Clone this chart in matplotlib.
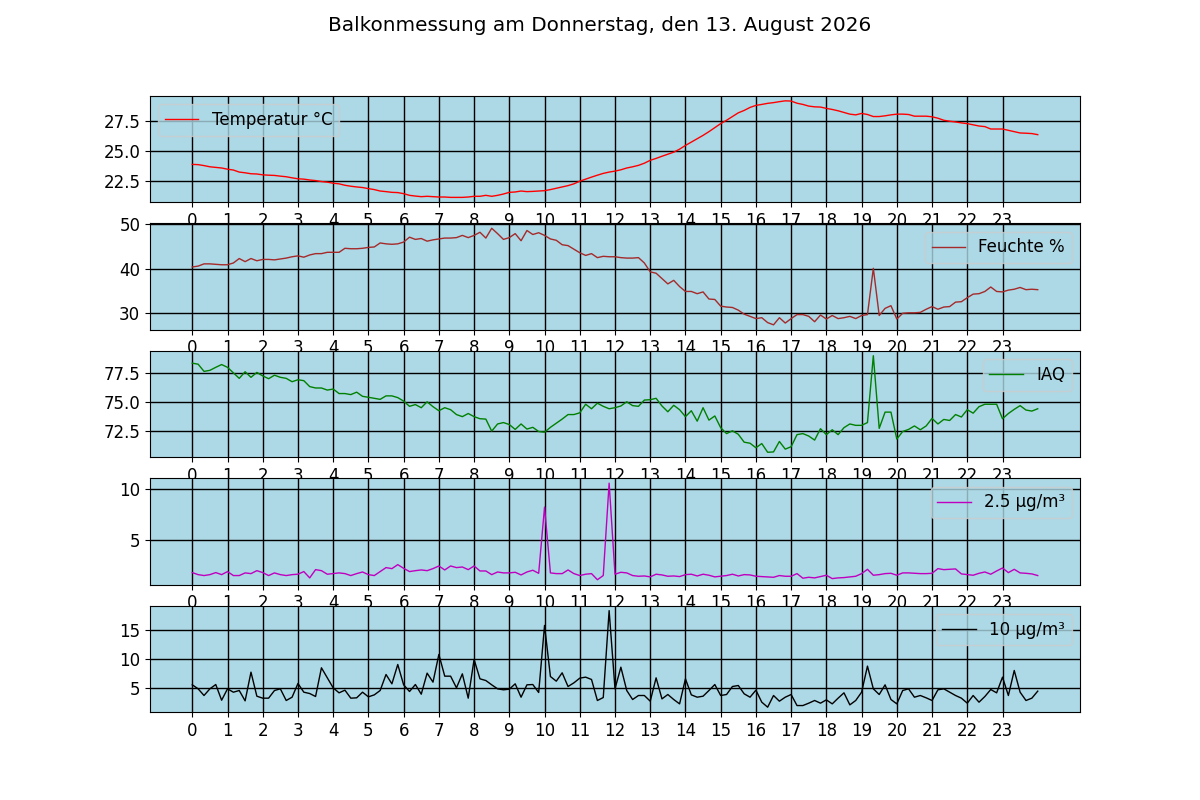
import numpy as np
import matplotlib.pyplot as plt

plt.rcParams['font.size'] = 12
plt.rcParams['axes.facecolor'] = 'lightblue'  # Legende übernimmt die Farbe

# Messwerte alle 10 Minuten (Index), Stunden-Ticks alle 6 Werte
temperatur = [23.90, 23.88, 23.80, 23.70, 23.65, 23.60, 23.50, 23.43, 23.26, 23.20,
              23.12, 23.10, 23.03, 23.00, 22.98, 22.92, 22.87, 22.78, 22.70, 22.67,
              22.60, 22.55, 22.47, 22.42, 22.33, 22.28, 22.16, 22.08, 22.02, 21.97,
              21.88, 21.80, 21.68, 21.63, 21.57, 21.55, 21.46, 21.32, 21.26, 21.21,
              21.24, 21.21, 21.18, 21.18, 21.15, 21.15, 21.15, 21.18, 21.24, 21.24,
              21.32, 21.24, 21.32, 21.43, 21.57, 21.60, 21.68, 21.63, 21.65, 21.68,
              21.71, 21.80, 21.91, 22.02, 22.13, 22.28, 22.50, 22.67, 22.84, 23.00,
              23.15, 23.26, 23.34, 23.45, 23.60, 23.70, 23.82, 24.00, 24.24, 24.40,
              24.58, 24.75, 24.92, 25.17, 25.48, 25.76, 26.04, 26.32, 26.63, 26.97,
              27.30, 27.58, 27.89, 28.20, 28.40, 28.65, 28.82, 28.90, 28.99, 29.05,
              29.13, 29.20, 29.18, 29.00, 28.90, 28.76, 28.70, 28.68, 28.57, 28.48,
              28.37, 28.23, 28.09, 28.03, 28.15, 28.06, 27.89, 27.89, 27.95, 28.03,
              28.09, 28.09, 28.06, 27.92, 27.92, 27.92, 27.87, 27.75, 27.58, 27.50,
              27.44, 27.36, 27.30, 27.20, 27.10, 27.05, 26.85, 26.85, 26.85, 26.74,
              26.63, 26.52, 26.50, 26.47, 26.38]

feuchte = [40.4, 40.6, 41.1, 41.1, 41.0, 40.9, 40.9, 41.3, 42.3, 41.6,
           42.3, 41.8, 42.1, 42.1, 42.0, 42.2, 42.4, 42.7, 42.9, 42.6,
           43.1, 43.4, 43.4, 43.7, 43.7, 43.7, 44.6, 44.5, 44.5, 44.6,
           44.8, 44.9, 45.8, 45.6, 45.5, 45.6, 46.0, 47.1, 46.6, 46.8,
           46.2, 46.5, 46.7, 46.9, 46.9, 47.0, 47.5, 47.0, 47.5, 48.2,
           46.9, 49.1, 47.9, 46.6, 47.0, 47.9, 46.3, 48.6, 47.7, 48.1,
           47.5, 46.7, 46.4, 45.4, 45.2, 44.4, 43.6, 43.0, 43.4, 42.5,
           42.8, 42.7, 42.7, 42.5, 42.4, 42.4, 42.5, 41.3, 39.3, 39.0,
           37.8, 36.6, 37.4, 36.0, 34.9, 34.9, 34.4, 34.8, 33.2, 33.1,
           31.6, 31.4, 31.3, 30.7, 29.8, 29.3, 28.8, 29.0, 27.9, 27.4,
           29.0, 27.8, 28.8, 29.7, 29.7, 29.3, 28.1, 29.6, 28.7, 29.5,
           28.8, 29.0, 29.3, 28.8, 29.5, 29.7, 40.1, 29.5, 31.1, 31.7,
           28.7, 30.0, 30.1, 30.1, 30.2, 30.9, 31.5, 30.9, 31.4, 31.5,
           32.5, 32.6, 33.5, 34.3, 34.4, 34.9, 35.9, 34.9, 34.8, 35.2,
           35.4, 35.8, 35.3, 35.4, 35.3]

iaq = [78.36, 78.27, 77.65, 77.74, 78.00, 78.24, 78.00, 77.53, 77.05, 77.62,
       77.14, 77.56, 77.26, 77.02, 77.32, 77.14, 77.05, 76.76, 76.93, 76.85,
       76.34, 76.22, 76.22, 76.04, 76.13, 75.74, 75.74, 75.65, 75.86, 75.50,
       75.42, 75.33, 75.24, 75.54, 75.54, 75.39, 75.09, 74.64, 74.79, 74.52,
       75.03, 74.61, 74.26, 74.52, 74.35, 73.93, 73.75, 74.02, 73.75, 73.57,
       73.54, 72.50, 73.12, 73.24, 73.07, 72.65, 73.12, 72.68, 72.83, 72.47,
       72.41, 72.83, 73.18, 73.54, 73.93, 73.93, 74.08, 74.82, 74.43, 74.91,
       74.64, 74.43, 74.52, 74.67, 75.03, 74.70, 74.64, 75.18, 75.21, 75.33,
       74.67, 74.17, 74.73, 74.35, 73.75, 74.26, 73.36, 74.52, 73.45, 73.81,
       72.80, 72.29, 72.53, 72.23, 71.55, 71.46, 71.07, 71.43, 70.68, 70.71,
       71.61, 70.95, 71.16, 72.20, 72.29, 72.08, 71.73, 72.71, 72.20, 72.62,
       72.20, 72.80, 73.12, 73.00, 73.00, 73.24, 79.00, 72.74, 74.14, 74.14,
       71.82, 72.47, 72.65, 72.95, 72.62, 72.95, 73.60, 73.12, 73.51, 73.42,
       73.93, 73.72, 74.35, 74.05, 74.61, 74.82, 74.82, 74.82, 73.57, 74.02,
       74.38, 74.70, 74.32, 74.23, 74.43]

pm25 = [1.82, 1.62, 1.53, 1.62, 1.82, 1.62, 1.92, 1.53, 1.53, 1.79,
        1.72, 2.01, 1.82, 1.53, 1.79, 1.62, 1.53, 1.62, 1.66, 1.92,
        1.30, 2.11, 2.01, 1.66, 1.72, 1.79, 1.72, 1.53, 1.72, 1.88,
        1.62, 1.53, 1.92, 2.31, 2.21, 2.60, 2.24, 1.92, 2.01, 2.08,
        2.01, 2.21, 2.47, 2.08, 2.47, 2.31, 2.37, 2.11, 2.47, 1.98,
        1.98, 1.62, 1.88, 1.79, 1.79, 1.85, 1.59, 1.88, 2.05, 1.75,
        8.25, 1.79, 1.72, 1.72, 2.08, 1.72, 1.53, 1.66, 1.72, 1.12,
        1.53, 10.60, 1.66, 1.85, 1.79, 1.53, 1.46, 1.49, 1.40, 1.66,
        1.59, 1.46, 1.49, 1.43, 1.62, 1.66, 1.49, 1.66, 1.56, 1.40,
        1.46, 1.53, 1.66, 1.49, 1.62, 1.59, 1.46, 1.43, 1.40, 1.36,
        1.53, 1.46, 1.46, 1.72, 1.27, 1.36, 1.30, 1.43, 1.56, 1.23,
        1.30, 1.33, 1.40, 1.46, 1.72, 2.14, 1.56, 1.62, 1.72, 1.75,
        1.56, 1.79, 1.79, 1.75, 1.72, 1.72, 1.75, 2.21, 2.11, 2.14,
        2.18, 1.69, 1.62, 1.56, 1.75, 1.88, 1.66, 1.98, 2.27, 1.82,
        2.14, 1.79, 1.75, 1.69, 1.53]

pm10 = [5.52, 4.83, 3.68, 4.83, 5.57, 2.87, 4.83, 4.25, 4.54, 2.76,
        7.70, 3.56, 3.22, 3.22, 4.54, 4.83, 2.82, 3.39, 5.75, 4.25,
        4.02, 3.51, 8.45, 6.72, 5.00, 4.14, 4.60, 3.22, 3.28, 4.25,
        3.45, 3.79, 4.54, 7.30, 5.69, 9.02, 5.52, 4.37, 5.57, 3.91,
        7.53, 5.98, 10.75, 7.01, 7.01, 5.00, 7.41, 3.22, 9.89, 6.55,
        6.26, 5.52, 4.83, 4.66, 4.77, 5.69, 3.39, 5.52, 5.57, 4.20,
        15.75, 6.95, 6.15, 7.59, 5.23, 5.86, 6.67, 6.84, 6.44, 2.82,
        3.33, 18.30, 4.83, 8.56, 4.54, 2.99, 3.68, 3.68, 2.70, 6.72,
        3.10, 3.85, 2.99, 2.24, 6.55, 3.79, 3.39, 3.56, 4.54, 5.57,
        3.68, 3.85, 5.23, 5.40, 3.97, 3.39, 4.60, 2.53, 1.67, 3.68,
        2.70, 3.39, 3.85, 1.95, 1.95, 2.36, 2.82, 2.36, 2.93, 2.24,
        3.22, 4.14, 2.07, 2.82, 4.25, 8.74, 4.83, 3.85, 5.52, 2.99,
        2.24, 4.54, 4.83, 3.39, 3.68, 3.28, 2.82, 4.66, 4.83, 4.25,
        3.68, 3.22, 2.36, 3.68, 2.53, 3.51, 4.71, 4.14, 6.84, 3.68,
        7.99, 4.25, 2.82, 3.22, 4.43]

stunden = list(range(24))

reihen = [
    (temperatur, 'red', 'Temperatur °C', 'upper left'),
    (feuchte, 'brown', 'Feuchte %', 'upper right'),
    (iaq, 'green', 'IAQ', 'upper right'),
    (pm25, 'm', '2.5 µg/m³', 'upper right'),
    (pm10, 'black', '10 µg/m³', 'upper right'),
]

fig, axs = plt.subplots(5, 1, figsize=(12, 8), dpi=100)
fig.suptitle('Balkonmessung am Donnerstag, den 13. August 2026')

for ax, (werte, farbe, name, ort) in zip(axs, reihen):
    ax.plot(range(len(werte)), werte, color=farbe, linewidth=1, label=name)
    ax.set_xticks([h * 6 for h in stunden])
    ax.set_xticklabels(stunden)
    ax.grid(True, color='black', linewidth=1)
    ax.legend(loc=ort)

plt.savefig('out.png')
